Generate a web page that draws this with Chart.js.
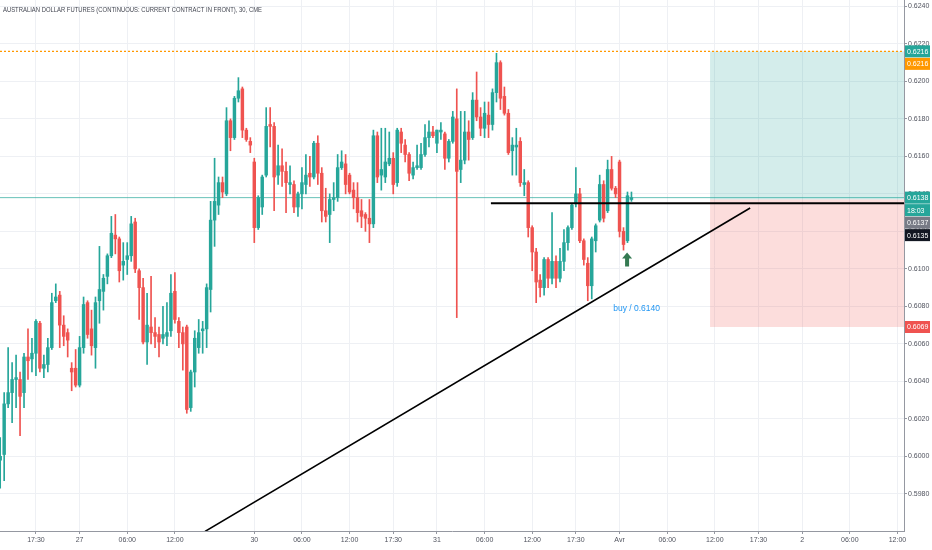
<!DOCTYPE html>
<html>
<head>
<meta charset="utf-8">
<script src="https://cdn.jsdelivr.net/npm/chart.js@4.4.1/dist/chart.umd.min.js"></script>
<style>
html, body { margin: 0; padding: 0; background: #fff; }
</style>
</head>
<body>
<canvas id="myChart" width="932" height="550"></canvas>
<script>
// 6A1! 30 min candles, 26 mars 17:00 -> 1 avr 01:30
const opens = [
  0.5998, 0.6001, 0.6028, 0.6034, 0.6041, 0.6041, 0.6034, 0.6053, 0.6052, 0.6055,
  0.6071, 0.6047, 0.6049, 0.6058, 0.6083, 0.6086, 0.6070, 0.6066, 0.6047, 0.6047,
  0.6038, 0.6058, 0.6082, 0.6068, 0.6058, 0.6083, 0.6088, 0.6096, 0.6107, 0.6118,
  0.6116, 0.6102, 0.6105, 0.6107, 0.6125, 0.6099, 0.6090, 0.6061, 0.6069, 0.6066,
  0.6065, 0.6063, 0.6064, 0.6067, 0.6088, 0.6072, 0.6066, 0.6069, 0.6026, 0.6045,
  0.6058, 0.6067, 0.6068, 0.6089, 0.6126, 0.6134, 0.6146, 0.6140, 0.6179, 0.6170,
  0.6191, 0.6196, 0.6174, 0.6168, 0.6157, 0.6122, 0.6133, 0.6150, 0.6177, 0.6176,
  0.6150, 0.6155, 0.6152, 0.6145, 0.6145, 0.6133, 0.6140, 0.6145, 0.6151, 0.6149,
  0.6167, 0.6151, 0.6131, 0.6129, 0.6137, 0.6138, 0.6154, 0.6156, 0.6150, 0.6142,
  0.6138, 0.6131, 0.6129, 0.6127, 0.6124, 0.6171, 0.6150, 0.6149, 0.6156, 0.6159,
  0.6146, 0.6173, 0.6166, 0.6161, 0.6150, 0.6154, 0.6154, 0.6161, 0.6170, 0.6173,
  0.6167, 0.6173, 0.6172, 0.6159, 0.6168, 0.6180, 0.6153, 0.6158, 0.6173, 0.6170,
  0.6190, 0.6181, 0.6175, 0.6182, 0.6177, 0.6194, 0.6210, 0.6192, 0.6183, 0.6163,
  0.6165, 0.6168, 0.6145, 0.6146, 0.6122, 0.6109, 0.6094, 0.6090, 0.6105, 0.6095,
  0.6104, 0.6095, 0.6104, 0.6114, 0.6122, 0.6135, 0.6140, 0.6115, 0.6103, 0.6091,
  0.6115, 0.6126, 0.6145, 0.6131, 0.6153, 0.6143, 0.6157, 0.6120, 0.6115, 0.6137
];
const highs = [
  0.6010, 0.6034, 0.6058, 0.6050, 0.6054, 0.6045, 0.6055, 0.6068, 0.6063, 0.6073,
  0.6072, 0.6054, 0.6063, 0.6087, 0.6092, 0.6088, 0.6075, 0.6068, 0.6050, 0.6057,
  0.6064, 0.6085, 0.6083, 0.6078, 0.6085, 0.6112, 0.6097, 0.6108, 0.6128, 0.6129,
  0.6117, 0.6114, 0.6114, 0.6128, 0.6127, 0.6100, 0.6095, 0.6087, 0.6096, 0.6074,
  0.6069, 0.6080, 0.6082, 0.6097, 0.6098, 0.6074, 0.6069, 0.6070, 0.6046, 0.6067,
  0.6073, 0.6072, 0.6092, 0.6136, 0.6159, 0.6149, 0.6149, 0.6186, 0.6180, 0.6192,
  0.6202, 0.6197, 0.6175, 0.6170, 0.6159, 0.6139, 0.6150, 0.6186, 0.6186, 0.6178,
  0.6166, 0.6164, 0.6157, 0.6155, 0.6147, 0.6141, 0.6154, 0.6161, 0.6160, 0.6168,
  0.6171, 0.6154, 0.6143, 0.6140, 0.6146, 0.6161, 0.6163, 0.6161, 0.6151, 0.6146,
  0.6146, 0.6137, 0.6130, 0.6137, 0.6174, 0.6173, 0.6175, 0.6175, 0.6173, 0.6162,
  0.6175, 0.6175, 0.6169, 0.6162, 0.6157, 0.6166, 0.6167, 0.6177, 0.6179, 0.6176,
  0.6174, 0.6178, 0.6173, 0.6169, 0.6184, 0.6196, 0.6184, 0.6184, 0.6179, 0.6194,
  0.6205, 0.6186, 0.6189, 0.6189, 0.6196, 0.6215, 0.6211, 0.6197, 0.6185, 0.6170,
  0.6175, 0.6170, 0.6153, 0.6147, 0.6123, 0.6111, 0.6097, 0.6106, 0.6106, 0.6130,
  0.6107, 0.6111, 0.6121, 0.6123, 0.6135, 0.6154, 0.6143, 0.6116, 0.6106, 0.6117,
  0.6124, 0.6150, 0.6147, 0.6158, 0.6160, 0.6144, 0.6158, 0.6122, 0.6141, 0.6141
];
const lows = [
  0.5983, 0.5987, 0.6026, 0.6018, 0.6026, 0.6011, 0.6026, 0.6041, 0.6045, 0.6043,
  0.6045, 0.6042, 0.6045, 0.6057, 0.6082, 0.6058, 0.6059, 0.6053, 0.6035, 0.6037,
  0.6037, 0.6055, 0.6063, 0.6054, 0.6047, 0.6071, 0.6078, 0.6092, 0.6106, 0.6108,
  0.6093, 0.6094, 0.6097, 0.6104, 0.6098, 0.6073, 0.6060, 0.6049, 0.6060, 0.6058,
  0.6053, 0.6060, 0.6059, 0.6064, 0.6071, 0.6058, 0.6046, 0.6023, 0.6024, 0.6037,
  0.6055, 0.6055, 0.6058, 0.6077, 0.6112, 0.6129, 0.6138, 0.6139, 0.6163, 0.6169,
  0.6189, 0.6170, 0.6168, 0.6162, 0.6114, 0.6121, 0.6129, 0.6149, 0.6165, 0.6131,
  0.6145, 0.6144, 0.6130, 0.6140, 0.6130, 0.6128, 0.6132, 0.6140, 0.6144, 0.6148,
  0.6145, 0.6125, 0.6125, 0.6114, 0.6131, 0.6136, 0.6153, 0.6140, 0.6140, 0.6132,
  0.6125, 0.6122, 0.6120, 0.6114, 0.6122, 0.6146, 0.6142, 0.6146, 0.6155, 0.6140,
  0.6144, 0.6162, 0.6157, 0.6147, 0.6148, 0.6153, 0.6153, 0.6160, 0.6165, 0.6170,
  0.6162, 0.6169, 0.6153, 0.6157, 0.6167, 0.6074, 0.6146, 0.6156, 0.6158, 0.6169,
  0.6179, 0.6171, 0.6170, 0.6170, 0.6174, 0.6189, 0.6185, 0.6182, 0.6161, 0.6150,
  0.6150, 0.6144, 0.6139, 0.6117, 0.6099, 0.6082, 0.6085, 0.6086, 0.6090, 0.6092,
  0.6090, 0.6093, 0.6099, 0.6110, 0.6121, 0.6133, 0.6114, 0.6102, 0.6083, 0.6084,
  0.6109, 0.6125, 0.6125, 0.6130, 0.6142, 0.6138, 0.6117, 0.6110, 0.6114, 0.6136
];
const closes = [
  0.6000, 0.6028, 0.6034, 0.6041, 0.6042, 0.6032, 0.6053, 0.6051, 0.6055, 0.6072,
  0.6047, 0.6049, 0.6058, 0.6082, 0.6085, 0.6070, 0.6064, 0.6062, 0.6045, 0.6038,
  0.6058, 0.6081, 0.6065, 0.6059, 0.6082, 0.6089, 0.6095, 0.6107, 0.6119, 0.6116,
  0.6099, 0.6104, 0.6107, 0.6124, 0.6100, 0.6090, 0.6061, 0.6070, 0.6066, 0.6064,
  0.6061, 0.6065, 0.6066, 0.6087, 0.6073, 0.6066, 0.6060, 0.6025, 0.6045, 0.6063,
  0.6066, 0.6068, 0.6090, 0.6126, 0.6136, 0.6146, 0.6141, 0.6179, 0.6170, 0.6191,
  0.6195, 0.6174, 0.6169, 0.6166, 0.6122, 0.6138, 0.6149, 0.6176, 0.6176, 0.6149,
  0.6155, 0.6152, 0.6146, 0.6146, 0.6133, 0.6140, 0.6146, 0.6150, 0.6149, 0.6167,
  0.6151, 0.6131, 0.6128, 0.6137, 0.6138, 0.6154, 0.6157, 0.6145, 0.6141, 0.6138,
  0.6130, 0.6128, 0.6127, 0.6124, 0.6171, 0.6149, 0.6153, 0.6157, 0.6159, 0.6145,
  0.6174, 0.6167, 0.6161, 0.6151, 0.6154, 0.6155, 0.6161, 0.6170, 0.6173, 0.6171,
  0.6174, 0.6174, 0.6159, 0.6168, 0.6181, 0.6152, 0.6158, 0.6173, 0.6169, 0.6190,
  0.6181, 0.6175, 0.6183, 0.6177, 0.6194, 0.6210, 0.6191, 0.6183, 0.6162, 0.6166,
  0.6166, 0.6146, 0.6146, 0.6122, 0.6109, 0.6093, 0.6090, 0.6105, 0.6095, 0.6104,
  0.6095, 0.6104, 0.6114, 0.6122, 0.6134, 0.6140, 0.6115, 0.6105, 0.6091, 0.6116,
  0.6123, 0.6145, 0.6127, 0.6153, 0.6143, 0.6140, 0.6120, 0.6113, 0.6139, 0.6138
];

// time axis (bar numbers, sessions have gaps)
const tickIdx = [10, 21, 33, 45, 65, 77, 89, 100, 111, 123, 135, 146, 157, 169, 181, 192, 203, 215, 227];
const tickLbl = ['17:30', '27', '06:00', '12:00', '30', '06:00', '12:00', '17:30', '31', '06:00',
                 '12:00', '17:30', 'Avr', '06:00', '12:00', '17:30', '2', '06:00', '12:00'];
const priceTicks = [0.5980, 0.6000, 0.6020, 0.6040, 0.6060, 0.6080, 0.6100, 0.6120,
                    0.6140, 0.6160, 0.6180, 0.6200, 0.6220, 0.6240];

// drawings
const lastPrice = 0.6138;
const orangeLevel = 0.6216;
const supportLevel = 0.6135;
const supportFrom = 124.6;
const trendX = [52.6, 189.9];
const trendY = [0.5960, 0.61325];
const boxFrom = 179.8;
const target = 0.6216, entry = 0.6137, stop = 0.6069;
const arrowX = 158.9, arrowY = 0.6105;
const buyX = 155.4, buyY = 0.60786, buyText = 'buy / 0.6140';
const title = 'AUSTRALIAN DOLLAR FUTURES (CONTINUOUS: CURRENT CONTRACT IN FRONT), 30, CME';

const badgeVals = [0.6216, 0.6216, 0.6138, 0.6138, 0.6137, 0.6135, 0.6069];
const badgeText = ['0.6216', '0.6216', '0.6138', '18:03', '0.6137', '0.6135', '0.6069'];
const badgeColors = ['#26a69a', '#ff9800', '#26a69a', '#26a69a', '#787b86', '#131722', '#ef5350'];

const xMin = 0.95, xMax = 228.65;
const upColor = '#26a69a';
const downColor = '#ef5350';

Chart.defaults.font.family = '"Liberation Sans", Arial, sans-serif';

const barNo = opens.map((o, i) => i + 1);
const candleColors = opens.map((o, i) => closes[i] >= o ? upColor : downColor);
const wickData = barNo.map((n, i) => ({x: n, y: [lows[i], highs[i]]}));
const bodyData = barNo.map((n, i) => ({x: n, y: [Math.min(opens[i], closes[i]), Math.max(opens[i], closes[i])]}));

const overlay = {
    id: 'overlay',
    beforeDatasetsDraw: (chart) => {
        const {ctx, chartArea: {right}, scales: {x, y}} = chart;
        ctx.save();
        const bx = x.getPixelForValue(boxFrom);
        ctx.fillStyle = 'rgba(38,166,154,0.2)';
        ctx.fillRect(bx, y.getPixelForValue(target), right - bx, y.getPixelForValue(entry) - y.getPixelForValue(target));
        ctx.fillStyle = 'rgba(239,83,80,0.2)';
        ctx.fillRect(bx, y.getPixelForValue(entry), right - bx, y.getPixelForValue(stop) - y.getPixelForValue(entry));
        ctx.restore();
    },
    afterDraw: (chart) => {
        const {ctx, chartArea: {right}, scales: {x, y}} = chart;
        ctx.save();

        // title
        ctx.font = '7px "Liberation Sans"';
        ctx.fillStyle = '#434651';
        ctx.textBaseline = 'middle';
        ctx.textAlign = 'left';
        ctx.fillText(title, 3, 10, 259);

        // up arrow
        const ax = x.getPixelForValue(arrowX);
        const ay = y.getPixelForValue(arrowY);
        ctx.fillStyle = '#357a52';
        ctx.beginPath();
        ctx.moveTo(ax, ay - 7);
        ctx.lineTo(ax + 5, ay - 1);
        ctx.lineTo(ax + 2, ay - 1);
        ctx.lineTo(ax + 2, ay + 7);
        ctx.lineTo(ax - 2, ay + 7);
        ctx.lineTo(ax - 2, ay - 1);
        ctx.lineTo(ax - 5, ay - 1);
        ctx.closePath();
        ctx.fill();

        // buy label
        ctx.font = '8.5px "Liberation Sans"';
        ctx.fillStyle = '#2196f3';
        ctx.fillText(buyText, x.getPixelForValue(buyX), y.getPixelForValue(buyY));

        // price badges on the axis, pushed down when they overlap
        ctx.font = '7px "Liberation Sans"';
        let prev = -100;
        badgeVals.forEach((v, i) => {
            let by = Math.max(y.getPixelForValue(v), prev + 12.5);
            prev = by;
            ctx.fillStyle = badgeColors[i];
            ctx.fillRect(right + 1, by - 6, 25, 12);
            ctx.fillStyle = '#fff';
            ctx.fillText(badgeText[i], right + 3, by + 0.5);
        });
        ctx.restore();
    }
};

const data = {
    datasets: [{
        type: 'line',
        data: [{x: trendX[0], y: trendY[0]}, {x: trendX[1], y: trendY[1]}],
        borderColor: '#000',
        borderWidth: 1.6,
        pointRadius: 0,
        order: 0
    }, {
        type: 'line',
        data: [{x: supportFrom, y: supportLevel}, {x: xMax, y: supportLevel}],
        borderColor: '#000',
        borderWidth: 2,
        pointRadius: 0,
        order: 0
    }, {
        type: 'line',
        data: [{x: xMin, y: orangeLevel}, {x: xMax, y: orangeLevel}],
        borderColor: '#ff9800',
        borderWidth: 1.2,
        borderDash: [2, 2],
        pointRadius: 0,
        order: 0
    }, {
        type: 'bar',
        data: bodyData,
        backgroundColor: candleColors,
        barThickness: 2.8,
        minBarLength: 1,
        grouped: false,
        borderWidth: 0,
        order: 1
    }, {
        type: 'bar',
        data: wickData,
        backgroundColor: candleColors,
        barThickness: 1,
        grouped: false,
        borderWidth: 0,
        order: 2
    }, {
        type: 'line',
        data: [{x: xMin, y: lastPrice}, {x: xMax, y: lastPrice}],
        borderColor: 'rgba(38,166,154,0.7)',
        borderWidth: 1,
        pointRadius: 0,
        order: 3
    }]
};

const config = {
    type: 'bar',
    data,
    options: {
        responsive: false,
        animation: false,
        layout: { padding: 0 },
        plugins: {
            legend: { display: false },
            tooltip: { enabled: false }
        },
        scales: {
            x: {
                type: 'linear',
                min: xMin,
                max: xMax,
                offset: false,
                afterBuildTicks: (axis) => { axis.ticks = tickIdx.map(v => ({value: v})); },
                afterFit: (axis) => { axis.height = 19; axis.paddingLeft = 0; axis.paddingRight = 0; },
                ticks: {
                    autoSkip: false,
                    maxRotation: 0,
                    padding: 2,
                    color: '#50535e',
                    font: { size: 7 },
                    callback: (v) => tickLbl[tickIdx.indexOf(v)]
                },
                grid: { offset: false, color: '#eef0f4', tickColor: '#9598a1', tickLength: 3 },
                border: { color: '#9598a1' }
            },
            y: {
                position: 'right',
                min: 0.59602,
                max: 0.62434,
                afterBuildTicks: (axis) => { axis.ticks = priceTicks.map(v => ({value: v})); },
                afterFit: (axis) => { axis.width = 28; axis.paddingTop = 0; axis.paddingBottom = 0; },
                ticks: {
                    padding: 1,
                    color: '#50535e',
                    font: { size: 7 },
                    callback: (v) => v.toFixed(4)
                },
                grid: { color: '#eef0f4', tickColor: '#9598a1', tickLength: 3 },
                border: { color: '#9598a1' }
            }
        }
    },
    plugins: [overlay]
};

const myChart = new Chart(document.getElementById('myChart'), config);
</script>
</body>
</html>
